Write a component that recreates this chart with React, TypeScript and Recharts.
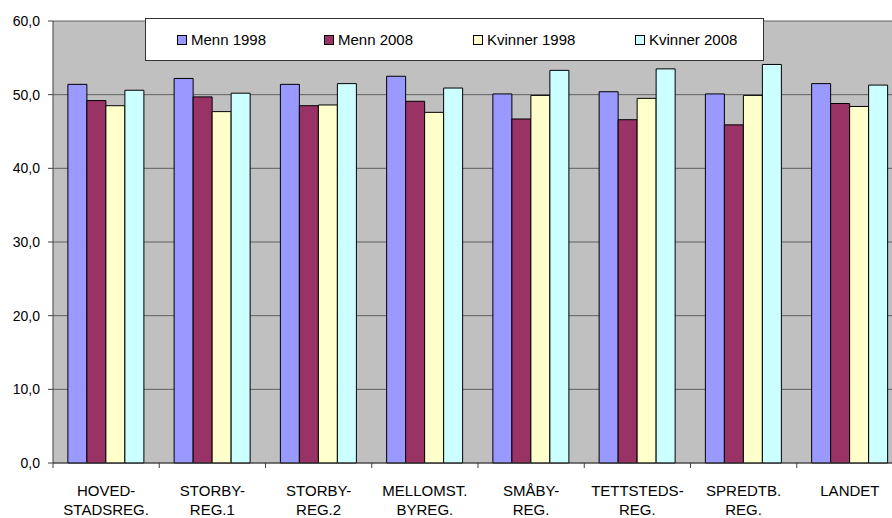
import React from 'react';
import { BarChart, Bar, XAxis, YAxis, CartesianGrid } from 'recharts';

// region labels, two lines split on \n
const regions = [
  'HOVED-\nSTADSREG.',
  'STORBY-\nREG.1',
  'STORBY-\nREG.2',
  'MELLOMST.\nBYREG.',
  'SMÅBY-\nREG.',
  'TETTSTEDS-\nREG.',
  'SPREDTB.\nREG.',
  'LANDET',
];

const menn1998 = [51.4, 52.2, 51.4, 52.5, 50.1, 50.4, 50.1, 51.5];
const menn2008 = [49.2, 49.7, 48.5, 49.1, 46.7, 46.6, 45.9, 48.8];
const kvinner1998 = [48.5, 47.7, 48.6, 47.6, 49.9, 49.5, 49.9, 48.4];
const kvinner2008 = [50.6, 50.2, 51.5, 50.9, 53.3, 53.5, 54.1, 51.3];

const yTicks = [0, 10, 20, 30, 40, 50, 60];

const seriesNames = ['Menn 1998', 'Menn 2008', 'Kvinner 1998', 'Kvinner 2008'];
const seriesKeys = ['m98', 'm08', 'k98', 'k08'];
const seriesColors = ['#9999FF', '#993366', '#FFFFCC', '#CCFFFF'];

const data = regions.map((r, i) => ({
  region: r,
  m98: menn1998[i],
  m08: menn2008[i],
  k98: kvinner1998[i],
  k08: kvinner2008[i],
}));

const FONT = '"Liberation Sans", Arial, sans-serif';

function CategoryTick(props: any) {
  const { x, y, payload } = props;
  const lines = String(payload.value).split('\n');
  const half = 53.125; // half a category band
  return (
    <g>
      <line x1={x - half} y1={y} x2={x - half} y2={y + 5} stroke="#404040" />
      <text textAnchor="middle" fontSize={15} fill="#000" fontFamily={FONT}>
        {lines.map((l, i) => (
          <tspan key={i} x={x} y={y + 33 + i * 19}>
            {l}
          </tspan>
        ))}
      </text>
    </g>
  );
}

const legendLeft = [31, 178, 327, 489];

function ChartLegend() {
  return (
    <div
      style={{
        position: 'absolute',
        left: 145,
        top: 18,
        width: 617,
        height: 41,
        background: '#fff',
        border: '1px solid #333',
        fontFamily: FONT,
        fontSize: 15,
      }}
    >
      {seriesNames.map((name, i) => (
        <div
          key={name}
          style={{
            position: 'absolute',
            left: legendLeft[i],
            top: 12,
            display: 'flex',
            alignItems: 'center',
            whiteSpace: 'nowrap',
          }}
        >
          <span
            style={{
              display: 'inline-block',
              width: 8,
              height: 8,
              background: seriesColors[i],
              border: '1px solid #000',
              marginRight: 4,
            }}
          />
          <span>{name}</span>
        </div>
      ))}
    </div>
  );
}

export default function App() {
  return (
    <div
      style={{
        position: 'absolute',
        left: 0,
        top: 0,
        width: 892,
        height: 518,
        overflow: 'hidden',
        background: '#fff',
        fontFamily: FONT,
      }}
    >
      <BarChart
        width={910}
        height={518}
        data={data}
        margin={{ top: 21, right: 7, left: 0, bottom: 5 }}
        barCategoryGap="14%"
        barGap={0}
      >
        <CartesianGrid vertical={false} stroke="#606060" fill="#C0C0C0" />
        <XAxis
          dataKey="region"
          tick={<CategoryTick />}
          tickLine={false}
          tickSize={0}
          tickMargin={0}
          height={50}
          interval={0}
          axisLine={{ stroke: '#404040' }}
        />
        <YAxis
          width={53}
          domain={[0, 60]}
          ticks={yTicks}
          tickFormatter={(v: number) => v.toFixed(1).replace('.', ',')}
          tick={{ fontSize: 14, fill: '#000', fontFamily: FONT }}
          tickSize={5}
          tickMargin={8}
          tickLine={{ stroke: '#404040' }}
          axisLine={{ stroke: '#404040' }}
        />
        {seriesKeys.map((k, i) => (
          <Bar
            key={k}
            dataKey={k}
            name={seriesNames[i]}
            fill={seriesColors[i]}
            stroke="#000"
            strokeWidth={1}
            isAnimationActive={false}
          />
        ))}
      </BarChart>
      <ChartLegend />
    </div>
  );
}
